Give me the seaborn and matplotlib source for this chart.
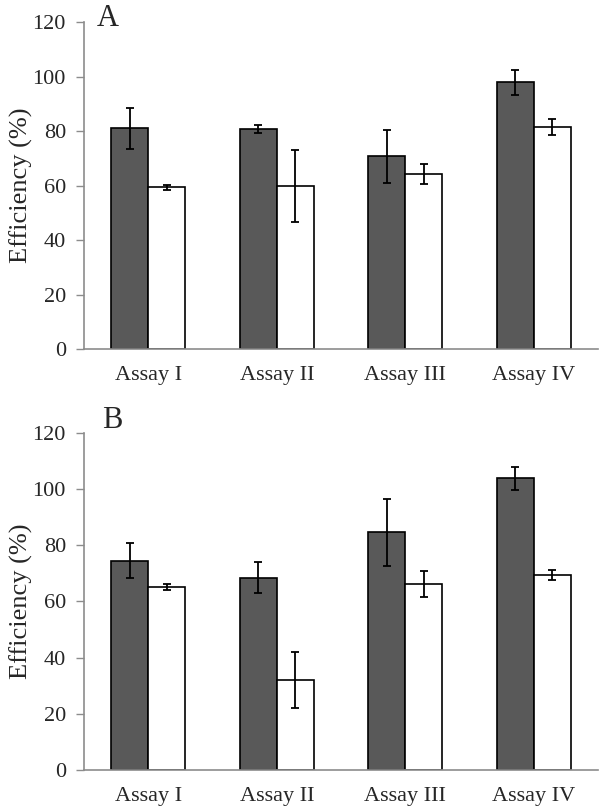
import numpy as np
import pandas as pd
import matplotlib
matplotlib.use("Agg")
import matplotlib.pyplot as plt
import seaborn as sns

# данные
assays = ["Assay I", "Assay II", "Assay III", "Assay IV"]
groups = ["dark", "white"]

a_dark = [81.0, 80.8, 70.7, 97.8]
a_dark_err = [7.5, 1.5, 9.6, 4.7]
a_white = [59.3, 59.8, 64.2, 81.5]
a_white_err = [0.9, 13.3, 3.6, 3.0]

b_dark = [74.5, 68.4, 84.5, 103.7]
b_dark_err = [6.2, 5.6, 11.9, 4.1]
b_white = [65.0, 32.0, 66.1, 69.4]
b_white_err = [1.0, 10.0, 4.7, 1.8]

y_ticks = [0, 20, 40, 60, 80, 100, 120]

sns.set_style("white")
plt.rcParams["font.family"] = ["Liberation Serif", "DejaVu Serif"]

AXIS_GRAY = "#8c8c8c"


def make_df(dark, white, dark_err, white_err):
    return pd.DataFrame({
        "assay": assays * 2,
        "group": [groups[0]] * 4 + [groups[1]] * 4,
        "value": list(dark) + list(white),
        "err": list(dark_err) + list(white_err),
    })


def draw_panel(ax, df, letter, letter_x, letter_y):
    sns.barplot(data=df, x="assay", y="value", hue="group", order=assays,
                hue_order=groups, palette={"dark": "#595959", "white": "#ffffff"},
                edgecolor="black", linewidth=1.2, width=0.575, gap=0,
                errorbar=None, legend=False, ax=ax)
    # error bars at bar centers
    for patch, (_, row) in zip(ax.patches, df.iterrows()):
        cx = patch.get_x() + patch.get_width() / 2
        ax.errorbar(cx, row["value"], yerr=row["err"], fmt="none",
                    ecolor="black", elinewidth=1.3, capsize=3, capthick=1.3)
    ax.set_ylim(0, 120)
    ax.set_xlim(-0.5, 3.5)
    ax.set_yticks(y_ticks)
    ax.set_yticklabels([str(t) for t in y_ticks], fontsize=16)
    ax.set_xticks(np.arange(-0.5, 4.0, 1.0))
    ax.set_xticklabels([])
    ax.set_xticks(range(len(assays)), minor=True)
    ax.set_xticklabels(assays, minor=True, fontsize=16)
    ax.tick_params(axis="x", which="minor", length=0, pad=12)
    ax.tick_params(axis="x", which="major", length=6, width=1, color=AXIS_GRAY, direction="out")
    ax.tick_params(axis="y", length=6, width=1, color=AXIS_GRAY, direction="out", left=True, pad=7)
    ax.set_xlabel("")
    ax.set_ylabel("Efficiency (%)", fontsize=19, labelpad=0)
    for side in ["top", "right"]:
        ax.spines[side].set_visible(False)
    for side in ["left", "bottom"]:
        ax.spines[side].set_color(AXIS_GRAY)
        ax.spines[side].set_linewidth(1.2)
    ax.text(letter_x, letter_y, letter, transform=ax.transAxes, fontsize=22,
            ha="left", va="center")


fig = plt.figure(figsize=(6.0, 8.09), dpi=100)
ax_a = fig.add_axes([0.14, 0.5686, 0.857, 0.4042])
ax_b = fig.add_axes([0.14, 0.0482, 0.857, 0.417])

draw_panel(ax_a, make_df(a_dark, a_white, a_dark_err, a_white_err), "A", 0.025, 1.01)
draw_panel(ax_b, make_df(b_dark, b_white, b_dark_err, b_white_err), "B", 0.035, 1.035)

fig.savefig("out.png", dpi=100, facecolor="white")
